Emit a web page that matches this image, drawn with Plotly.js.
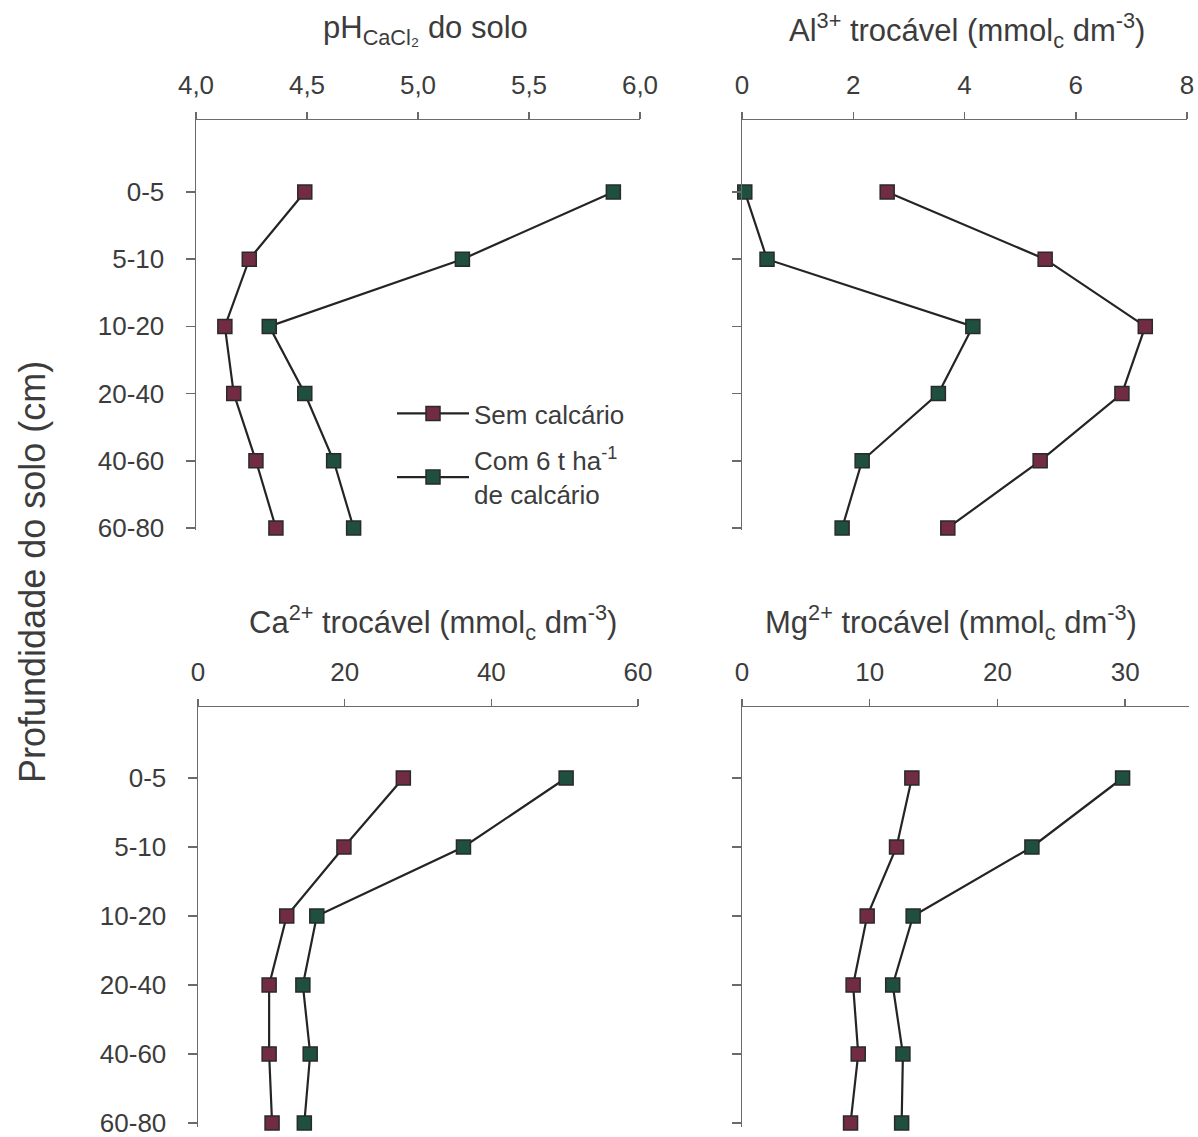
<!DOCTYPE html>
<html>
<head>
<meta charset="utf-8">
<script src="https://cdn.plot.ly/plotly-3.0.1.min.js"></script>
<style>html,body{margin:0;padding:0;background:#fff;}#chart{width:1198px;height:1137px;}</style>
</head>
<body>
<div id="chart"></div>
<script>
// Depth layers (categories, top to bottom)
var depths = ["0-5", "5-10", "10-20", "20-40", "40-60", "60-80"];

// pH CaCl2
var phSem = [4.49, 4.24, 4.13, 4.17, 4.27, 4.36];
var phCom = [5.88, 5.20, 4.33, 4.49, 4.62, 4.71];

// Al3+ exchangeable (mmolc dm-3)
var alSem = [2.61, 5.45, 7.25, 6.83, 5.36, 3.70];
var alCom = [0.05, 0.45, 4.15, 3.53, 2.16, 1.80];

// Ca2+ exchangeable (mmolc dm-3)
var caSem = [28.0, 19.9, 12.1, 9.7, 9.7, 10.1];
var caCom = [50.2, 36.2, 16.2, 14.3, 15.3, 14.5];

// Mg2+ exchangeable (mmolc dm-3)
var mgSem = [13.3, 12.1, 9.8, 8.7, 9.1, 8.5];
var mgCom = [29.8, 22.7, 13.4, 11.8, 12.6, 12.5];

var seriesNames = ["Sem calcário", "Com 6 t ha<sup>-1</sup><br>de calcário"];
var phTicks = [4.0, 4.5, 5.0, 5.5, 6.0];
var phTickText = ["4,0", "4,5", "5,0", "5,5", "6,0"];

var FONT = "Liberation Sans, Arial, Helvetica, sans-serif";
var TXT = "#3c3c3c";
var AX = "#6a6a6a";
var colSem = "#712b43";
var colCom = "#1f4f3f";

function tr(x, color, name, xa, ya, show) {
  return {
    type: "scatter", mode: "lines+markers",
    x: x, y: depths, name: name, showlegend: show, legendgroup: name,
    xaxis: xa, yaxis: ya, cliponaxis: false,
    line: {color: "#242424", width: 2.2},
    marker: {symbol: "square", size: 14, color: color, line: {color: "#2a2a2a", width: 1.5}}
  };
}

var data = [
  tr(phSem, colSem, seriesNames[0], "x", "y", true),
  tr(phCom, colCom, seriesNames[1], "x", "y", true),
  tr(alSem, colSem, seriesNames[0], "x2", "y2", false),
  tr(alCom, colCom, seriesNames[1], "x2", "y2", false),
  tr(caSem, colSem, seriesNames[0], "x3", "y3", false),
  tr(caCom, colCom, seriesNames[1], "x3", "y3", false),
  tr(mgSem, colSem, seriesNames[0], "x4", "y4", false),
  tr(mgCom, colCom, seriesNames[1], "x4", "y4", false)
];

function xax(domain, range, anchor, extra) {
  var a = {
    domain: domain, range: range, anchor: anchor, side: "top",
    showline: true, linecolor: AX, linewidth: 1.5,
    ticks: "outside", ticklen: 7, tickwidth: 1.5, tickcolor: AX,
    showgrid: false, zeroline: false,
    tickfont: {family: FONT, size: 26, color: TXT},
    ticklabelstandoff: 7
  };
  for (var k in extra) a[k] = extra[k];
  return a;
}
function yax(domain, range, anchor, labels) {
  return {
    domain: domain, range: range, anchor: anchor, type: "category",
    categoryorder: "array", categoryarray: depths,
    showline: true, linecolor: AX, linewidth: 1.5,
    ticks: "outside", ticklen: 9, tickwidth: 1.5, tickcolor: AX,
    showgrid: false, zeroline: false, showticklabels: labels,
    tickfont: {family: FONT, size: 26, color: TXT},
    ticklabelstandoff: 16
  };
}

var W = 1198, H = 1137;
function px(v) { return v / W; }
function py(v) { return 1 - v / H; }

var layout = {
  width: W, height: H,
  margin: {l: 0, r: 0, t: 0, b: 0},
  paper_bgcolor: "#ffffff", plot_bgcolor: "rgba(0,0,0,0)",
  font: {family: FONT, color: TXT},
  xaxis: xax([px(196), px(640)], [4.0, 6.0], "y", {tickvals: phTicks, ticktext: phTickText}),
  yaxis: yax([py(530), py(120)], [5.03, -1.071], "x", true),
  xaxis2: xax([px(742), px(1187)], [0, 8], "y2", {tickvals: [0, 2, 4, 6, 8]}),
  yaxis2: yax([py(530), py(120)], [5.03, -1.071], "x2", false),
  xaxis3: xax([px(198), px(638)], [0, 60], "y3", {tickvals: [0, 20, 40, 60]}),
  yaxis3: yax([py(1127), py(707)], [5.058, -1.029], "x3", true),
  xaxis4: xax([px(742), px(1189)], [0, 35], "y4", {tickvals: [0, 10, 20, 30]}),
  yaxis4: yax([py(1127), py(707)], [5.058, -1.029], "x4", false),
  showlegend: true,
  legend: {
    x: px(392), y: py(390), xanchor: "left", yanchor: "top",
    bgcolor: "rgba(0,0,0,0)", borderwidth: 0,
    font: {family: FONT, size: 26, color: TXT},
    tracegroupgap: 10, itemwidth: 72
  },
  annotations: [
    {text: "pH<sub>CaCl₂</sub> do solo", x: px(425), y: py(30), xref: "paper", yref: "paper",
     showarrow: false, xanchor: "center", yanchor: "middle", font: {family: FONT, size: 31, color: TXT}},
    {text: "Al<sup>3+</sup> trocável (mmol<sub>c</sub> dm<sup>-3</sup>)", x: px(967), y: py(30), xref: "paper", yref: "paper",
     showarrow: false, xanchor: "center", yanchor: "middle", font: {family: FONT, size: 31, color: TXT}},
    {text: "Ca<sup>2+</sup> trocável (mmol<sub>c</sub> dm<sup>-3</sup>)", x: px(433), y: py(622), xref: "paper", yref: "paper",
     showarrow: false, xanchor: "center", yanchor: "middle", font: {family: FONT, size: 31, color: TXT}},
    {text: "Mg<sup>2+</sup> trocável (mmol<sub>c</sub> dm<sup>-3</sup>)", x: px(951), y: py(622), xref: "paper", yref: "paper",
     showarrow: false, xanchor: "center", yanchor: "middle", font: {family: FONT, size: 31, color: TXT}},
    {text: "Profundidade do solo (cm)", x: px(32), y: py(572), xref: "paper", yref: "paper",
     showarrow: false, xanchor: "center", yanchor: "middle", textangle: -90,
     font: {family: FONT, size: 36, color: TXT}}
  ]
};

Plotly.newPlot("chart", data, layout, {staticPlot: true, displayModeBar: false});
</script>
</body>
</html>
